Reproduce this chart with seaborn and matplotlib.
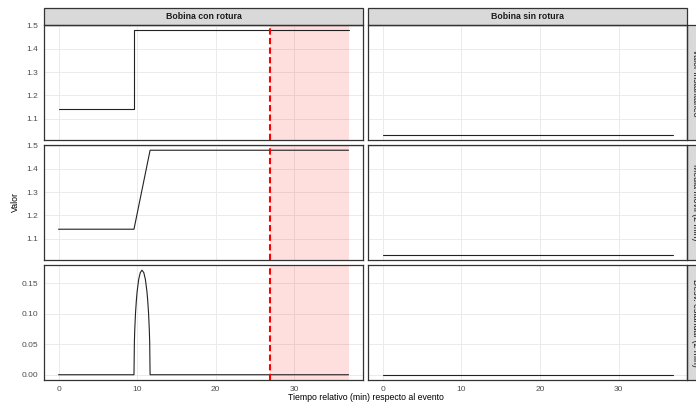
import matplotlib
matplotlib.use("Agg")
import matplotlib.pyplot as plt
from matplotlib.patches import Rectangle
import seaborn as sns
import pandas as pd

bobinas = ["Bobina con rotura", "Bobina sin rotura"]
metricas = ["Valor instantáneo", "Media móvil (2 min)", "Desv. estándar (2 min)"]

# Bobina con rotura
t_inst = [0, 9.6, 9.6, 36.9]
v_inst = [1.14, 1.14, 1.48, 1.48]
t_media = [0, 9.6, 11.65, 36.9]
v_media = [1.14, 1.14, 1.48, 1.48]
t_desv = [0, 9.6, 9.65, 9.7, 9.8, 9.9, 10.0, 10.2, 10.4, 10.62, 10.85,
          11.05, 11.25, 11.35, 11.45, 11.55, 11.6, 11.65, 36.9]
v_desv = [0, 0, 0.053, 0.074, 0.102, 0.121, 0.136, 0.156, 0.167, 0.171, 0.167,
          0.156, 0.136, 0.121, 0.102, 0.074, 0.053, 0, 0]

# Bobina sin rotura
t_sin = [0, 36.9]
v_sin_inst = [1.03, 1.03]
v_sin_media = [1.03, 1.03]
v_sin_desv = [0, 0]

evento = 26.9
fin = 36.9

x_ticks = [0, 10, 20, 30]
y_ticks_valor = [1.1, 1.2, 1.3, 1.4, 1.5]
y_ticks_desv = [0.00, 0.05, 0.10, 0.15]

series = [
    ("Bobina con rotura", "Valor instantáneo", t_inst, v_inst),
    ("Bobina con rotura", "Media móvil (2 min)", t_media, v_media),
    ("Bobina con rotura", "Desv. estándar (2 min)", t_desv, v_desv),
    ("Bobina sin rotura", "Valor instantáneo", t_sin, v_sin_inst),
    ("Bobina sin rotura", "Media móvil (2 min)", t_sin, v_sin_media),
    ("Bobina sin rotura", "Desv. estándar (2 min)", t_sin, v_sin_desv),
]
rows = []
for bob, met, ts, vs in series:
    for t, v in zip(ts, vs):
        rows.append({"bobina": bob, "metrica": met, "tiempo": t, "valor": v})
df = pd.DataFrame(rows)

sns.set_style("white")
plt.rcParams["font.family"] = ["Liberation Sans", "DejaVu Sans"]

g = sns.FacetGrid(df, row="metrica", col="bobina", row_order=metricas,
                  col_order=bobinas, sharex=True, sharey="row",
                  height=1.3, aspect=2.4, despine=False)
g.map_dataframe(sns.lineplot, x="tiempo", y="valor", estimator=None,
                sort=False, color="#222222", lw=0.8, zorder=3)
g.set_titles("")
g.set_axis_labels("", "")

fig = g.figure
fig.set_size_inches(6.96, 4.08)
fig.subplots_adjust(left=44 / 696, right=687.3 / 696, top=1 - 25 / 408,
                    bottom=1 - 380 / 408, wspace=0.0163, hspace=0.0435)

ax_h = 115.0
ax_w = 319.3
for i, met in enumerate(metricas):
    for j, bob in enumerate(bobinas):
        ax = g.axes[i, j]
        ax.set_xlim(-1.85, 38.75)
        if i < 2:
            ax.set_ylim(1.0075, 1.5025)
            ax.set_yticks(y_ticks_valor)
            ax.set_yticklabels([f"{v:.1f}" for v in y_ticks_valor])
        else:
            ax.set_ylim(-0.0086, 0.1795)
            ax.set_yticks(y_ticks_desv)
            ax.set_yticklabels([f"{v:.2f}" for v in y_ticks_desv])
        ax.set_xticks(x_ticks)
        ax.grid(True, color="#EBEBEB", lw=0.7)
        ax.set_axisbelow(True)
        for s in ax.spines.values():
            s.set_color("#333333")
            s.set_linewidth(0.9)
        ax.tick_params(axis="both", labelsize=6, labelcolor="#4D4D4D",
                       color="#333333", length=2.5, width=0.6, pad=1.5)
        if j > 0:
            ax.tick_params(axis="y", length=0)
        if i < 2:
            ax.tick_params(axis="x", length=0)
        if j == 0:
            ax.axvspan(evento, fin, color="red", alpha=0.13, lw=0, zorder=1)
            ax.axvline(evento, color="red", lw=1.5, ls=(0, (3, 1.6)), zorder=4)
        if i == 0:
            sh = 16.7 / ax_h
            ax.add_patch(Rectangle((0, 1), 1, sh, transform=ax.transAxes,
                                   clip_on=False, fc="#D9D9D9", ec="#333333", lw=0.9))
            ax.text(0.5, 1 + sh / 2, bob, transform=ax.transAxes, ha="center",
                    va="center", fontsize=6.3, fontweight="bold", color="#1A1A1A")
        if j == 1:
            sw = 16.3 / ax_w
            ax.add_patch(Rectangle((1, 0), sw, 1, transform=ax.transAxes,
                                   clip_on=False, fc="#D9D9D9", ec="#333333", lw=0.9))
            ax.text(1 + sw / 2, 0.5, met, transform=ax.transAxes, ha="center",
                    va="center", rotation=-90, fontsize=6.3, color="#1A1A1A")

fig.text(365.6 / 696, 1 - 398 / 408, "Tiempo relativo (min) respecto al evento",
         ha="center", va="center", fontsize=6.3, color="black")
fig.text(15.7 / 696, 1 - 202.5 / 408, "Valor", ha="center", va="center",
         rotation=90, fontsize=6.3, color="black")

fig.savefig("out.png", dpi=100)
